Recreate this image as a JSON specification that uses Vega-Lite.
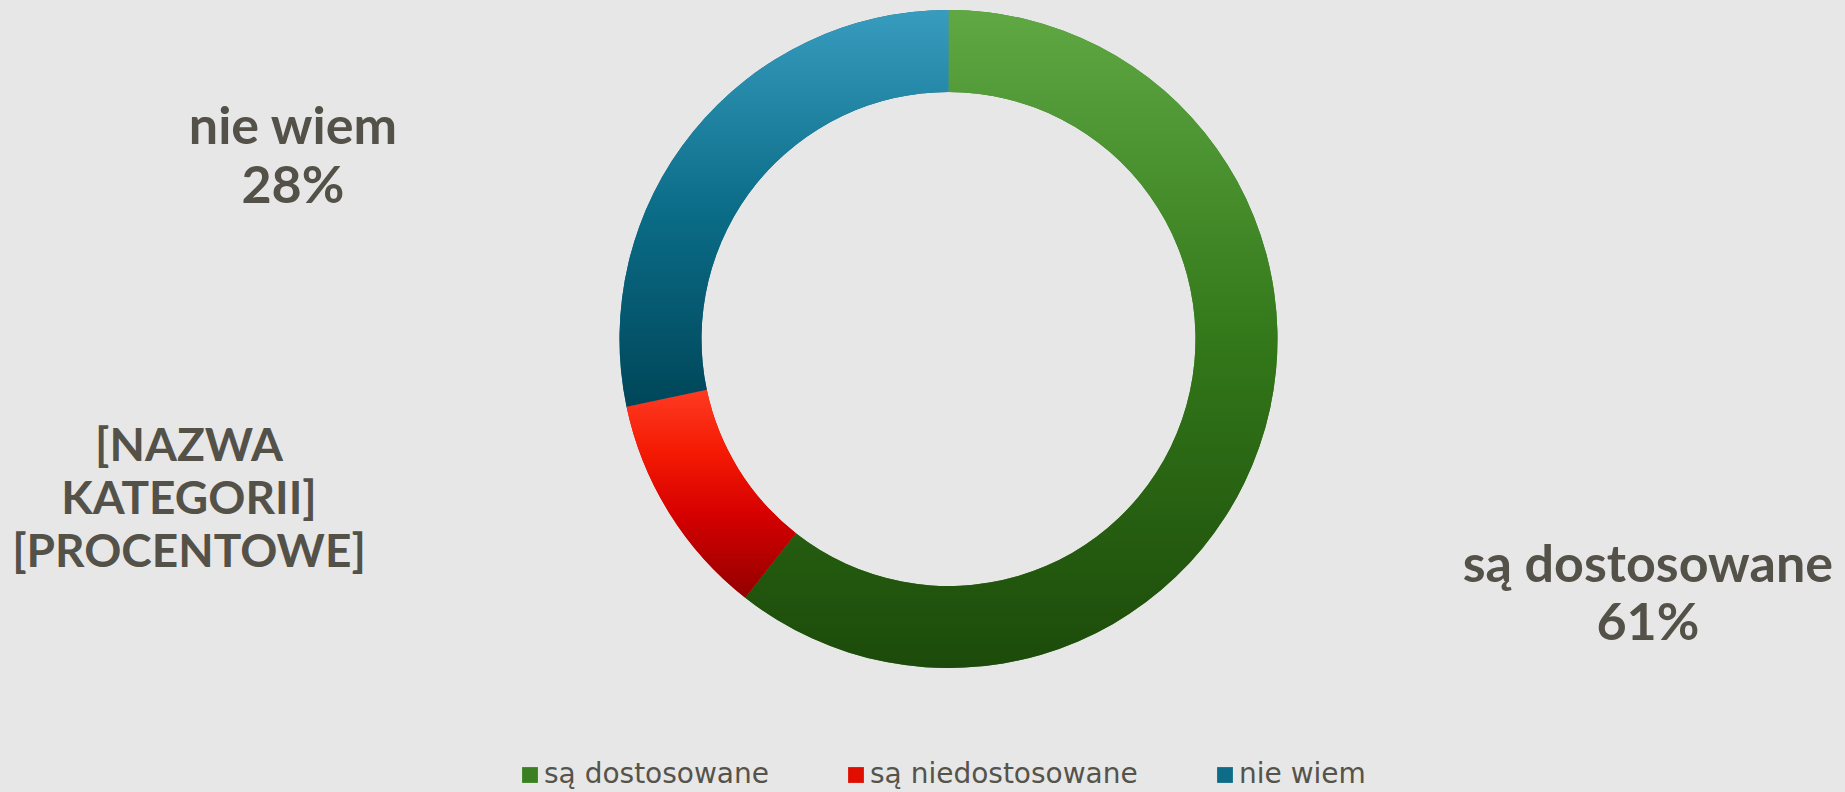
{
  "$schema": "https://vega.github.io/schema/vega-lite/v6.json",
  "width": 1793,
  "height": 678,
  "autosize": "none",
  "padding": {"left": 52, "top": 0, "right": 0, "bottom": 114},
  "background": "#e7e7e7",
  "config": {"view": {"stroke": null}},
  "data": {
    "values": [
      {"category": "są dostosowane", "value": 60.6, "idx": 1, "label": "są dostosowane\n61%"},
      {"category": "są niedostosowane", "value": 11.1, "idx": 2, "label": "[NAZWA\nKATEGORII]\n[PROCENTOWE]"},
      {"category": "nie wiem", "value": 28.3, "idx": 3, "label": "nie wiem\n28%"}
    ]
  },
  "encoding": {
    "theta": {"field": "value", "type": "quantitative", "stack": true},
    "order": {"field": "idx", "type": "quantitative"}
  },
  "layer": [
    {
      "mark": {"type": "arc", "outerRadius": 329, "innerRadius": 247},
      "encoding": {
        "color": {
          "field": "category",
          "type": "nominal",
          "scale": {
            "domain": ["są dostosowane", "są niedostosowane", "nie wiem"],
            "range": ["#3a8022", "#e00e00", "#0e6c88"]
          },
          "legend": {
            "title": null,
            "orient": "none",
            "direction": "horizontal",
            "legendX": 464,
            "legendY": 761,
            "symbolType": "square",
            "symbolSize": 250,
            "symbolStrokeWidth": 0,
            "symbolOffset": 0,
            "labelFont": "DejaVu Sans",
            "labelFontSize": 28,
            "labelColor": "#55534a",
            "labelLimit": 500,
            "labelOffset": 0,
            "columnPadding": 73
          }
        }
      }
    },
    {
      "mark": {"type": "arc", "outerRadius": 329, "innerRadius": 247,
        "fill": {"gradient": "linear", "x1": 0, "y1": 0, "x2": 0, "y2": 1, "stops": [
          {"offset": 0, "color": "#5fa843"},
          {"offset": 0.5, "color": "#33781a"},
          {"offset": 1, "color": "#1c4a0a"}]}},
      "encoding": {
        "opacity": {"condition": {"test": "datum.category === 'są dostosowane'", "value": 1}, "value": 0}
      }
    },
    {
      "mark": {"type": "arc", "outerRadius": 329, "innerRadius": 247,
        "fill": {"gradient": "linear", "x1": 0, "y1": 0, "x2": 0, "y2": 1, "stops": [
          {"offset": 0, "color": "#ff3a22"},
          {"offset": 0.3, "color": "#f41a03"},
          {"offset": 0.6, "color": "#d60000"},
          {"offset": 1, "color": "#930000"}]}},
      "encoding": {
        "opacity": {"condition": {"test": "datum.category === 'są niedostosowane'", "value": 1}, "value": 0}
      }
    },
    {
      "mark": {"type": "arc", "outerRadius": 329, "innerRadius": 247,
        "fill": {"gradient": "linear", "x1": 0, "y1": 0, "x2": 0, "y2": 1, "stops": [
          {"offset": 0, "color": "#389cbf"},
          {"offset": 0.5, "color": "#0b6d88"},
          {"offset": 1, "color": "#004659"}]}},
      "encoding": {
        "opacity": {"condition": {"test": "datum.category === 'nie wiem'", "value": 1}, "value": 0}
      }
    },
    {
      "mark": {"type": "text", "radius": 740, "dy": -15, "font": "Lato", "fontWeight": "bold", "fontSize": 52, "lineHeight": 58, "lineBreak": "\n", "align": "center", "baseline": "middle", "color": "#535148"},
      "encoding": {
        "text": {"condition": {"test": "datum.category === 'są dostosowane'", "field": "label", "type": "nominal"}, "value": ""}
      }
    },
    {
      "mark": {"type": "text", "radius": 740, "dx": -131, "dy": -283, "font": "Lato", "fontWeight": "bold", "fontSize": 46, "lineHeight": 53, "lineBreak": "\n", "align": "center", "baseline": "middle", "color": "#535148"},
      "encoding": {
        "text": {"condition": {"test": "datum.category === 'są niedostosowane'", "field": "label", "type": "nominal"}, "value": ""}
      }
    },
    {
      "mark": {"type": "text", "radius": 740, "dx": -81, "dy": 255, "font": "Lato", "fontWeight": "bold", "fontSize": 52, "lineHeight": 59, "lineBreak": "\n", "align": "center", "baseline": "middle", "color": "#535148"},
      "encoding": {
        "text": {"condition": {"test": "datum.category === 'nie wiem'", "field": "label", "type": "nominal"}, "value": ""}
      }
    }
  ]
}
